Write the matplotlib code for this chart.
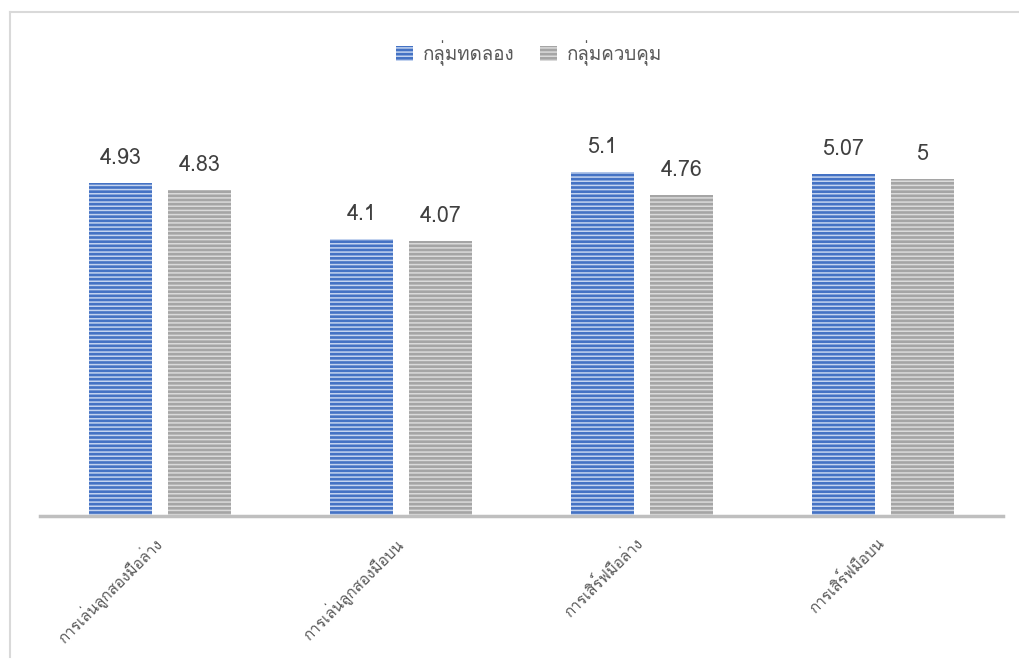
import matplotlib
matplotlib.use("Agg")
import matplotlib.pyplot as plt
import matplotlib.transforms as mtransforms
import numpy as np
from matplotlib import font_manager, ft2font
from matplotlib.lines import Line2D

categories = ["การเล่นลูกสองมือล่าง", "การเล่นลูกสองมือบน", "การเสิร์ฟมือล่าง", "การเสิร์ฟมือบน"]
series_names = ["กลุ่มทดลอง", "กลุ่มควบคุม"]
experimental = [4.93, 4.10, 5.10, 5.07]
control = [4.83, 4.07, 4.76, 5.00]
value_labels = [["4.93", "4.1", "5.1", "5.07"], ["4.83", "4.07", "4.76", "5"]]


def pick_thai_font():
    # first installed family that actually carries Thai glyphs
    for f in font_manager.fontManager.ttflist:
        try:
            cmap = ft2font.FT2Font(f.fname).get_charmap()
        except Exception:
            continue
        if 0x0E01 in cmap and 0x0E25 in cmap and 0x0E48 in cmap:
            return f.name
    return None


thai = pick_thai_font()
families = [thai, "DejaVu Sans"] if thai else ["DejaVu Sans"]
plt.rcParams["font.family"] = families
plt.rcParams["hatch.linewidth"] = 1.1

W, H = 1019, 666
fig = plt.figure(figsize=(W / 100, H / 100), dpi=100)
fig.patch.set_facecolor("white")

# light frame: left and top edges only
frame = dict(transform=fig.transFigure, color="#D9D9D9", linewidth=1.5)
fig.add_artist(Line2D([10 / W, 10 / W], [1 - 657 / H, 1 - 12 / H], **frame))
fig.add_artist(Line2D([10 / W, 1.0], [1 - 12 / H, 1 - 12 / H], **frame))

ax = fig.add_axes([40 / W, 150 / H, 963 / W, 405 / H])

x = np.arange(len(categories))
width = 0.262
gap = 0.066
offsets = [-(width + gap) / 2, (width + gap) / 2]
styles = [("#4472C4", "#C3D3EF"), ("#A5A5A5", "#DADADA")]

handles = []
for i, vals in enumerate([experimental, control]):
    face, stripe = styles[i]
    bars = ax.bar(x + offsets[i], vals, width, color=face, edgecolor=stripe,
                  hatch="----", linewidth=0, label=series_names[i])
    handles.append(bars)
    for b, v, lab in zip(bars, vals, value_labels[i]):
        ax.annotate(lab, (b.get_x() + b.get_width() / 2, v),
                    xytext=(0, 10), textcoords="offset points",
                    ha="center", va="bottom", fontsize=15.5, color="#404040")

ax.set_xlim(-0.5, len(categories) - 0.5)
ax.set_ylim(0, 6)
for s in ["top", "right", "left"]:
    ax.spines[s].set_visible(False)
ax.spines["bottom"].set_color("#BFBFBF")
ax.spines["bottom"].set_linewidth(2.5)
ax.set_yticks([])
ax.set_xticks(x)
ax.set_xticklabels(categories, rotation=45, ha="right", rotation_mode="anchor",
                   fontsize=11, color="#595959")
ax.tick_params(axis="x", length=0, pad=13)
shift = mtransforms.ScaledTranslation(-8 / 100, 0, fig.dpi_scale_trans)
for lbl in ax.get_xticklabels():
    lbl.set_transform(lbl.get_transform() + shift)

fig.legend(handles=handles, labels=series_names, loc="center",
           bbox_to_anchor=(529 / W, 1 - 53 / H), ncol=2, frameon=False,
           fontsize=13.5, labelcolor="#595959", handlelength=0.9,
           handleheight=0.9, columnspacing=1.4, handletextpad=0.5)

fig.savefig("out.png", dpi=100, facecolor="white")
